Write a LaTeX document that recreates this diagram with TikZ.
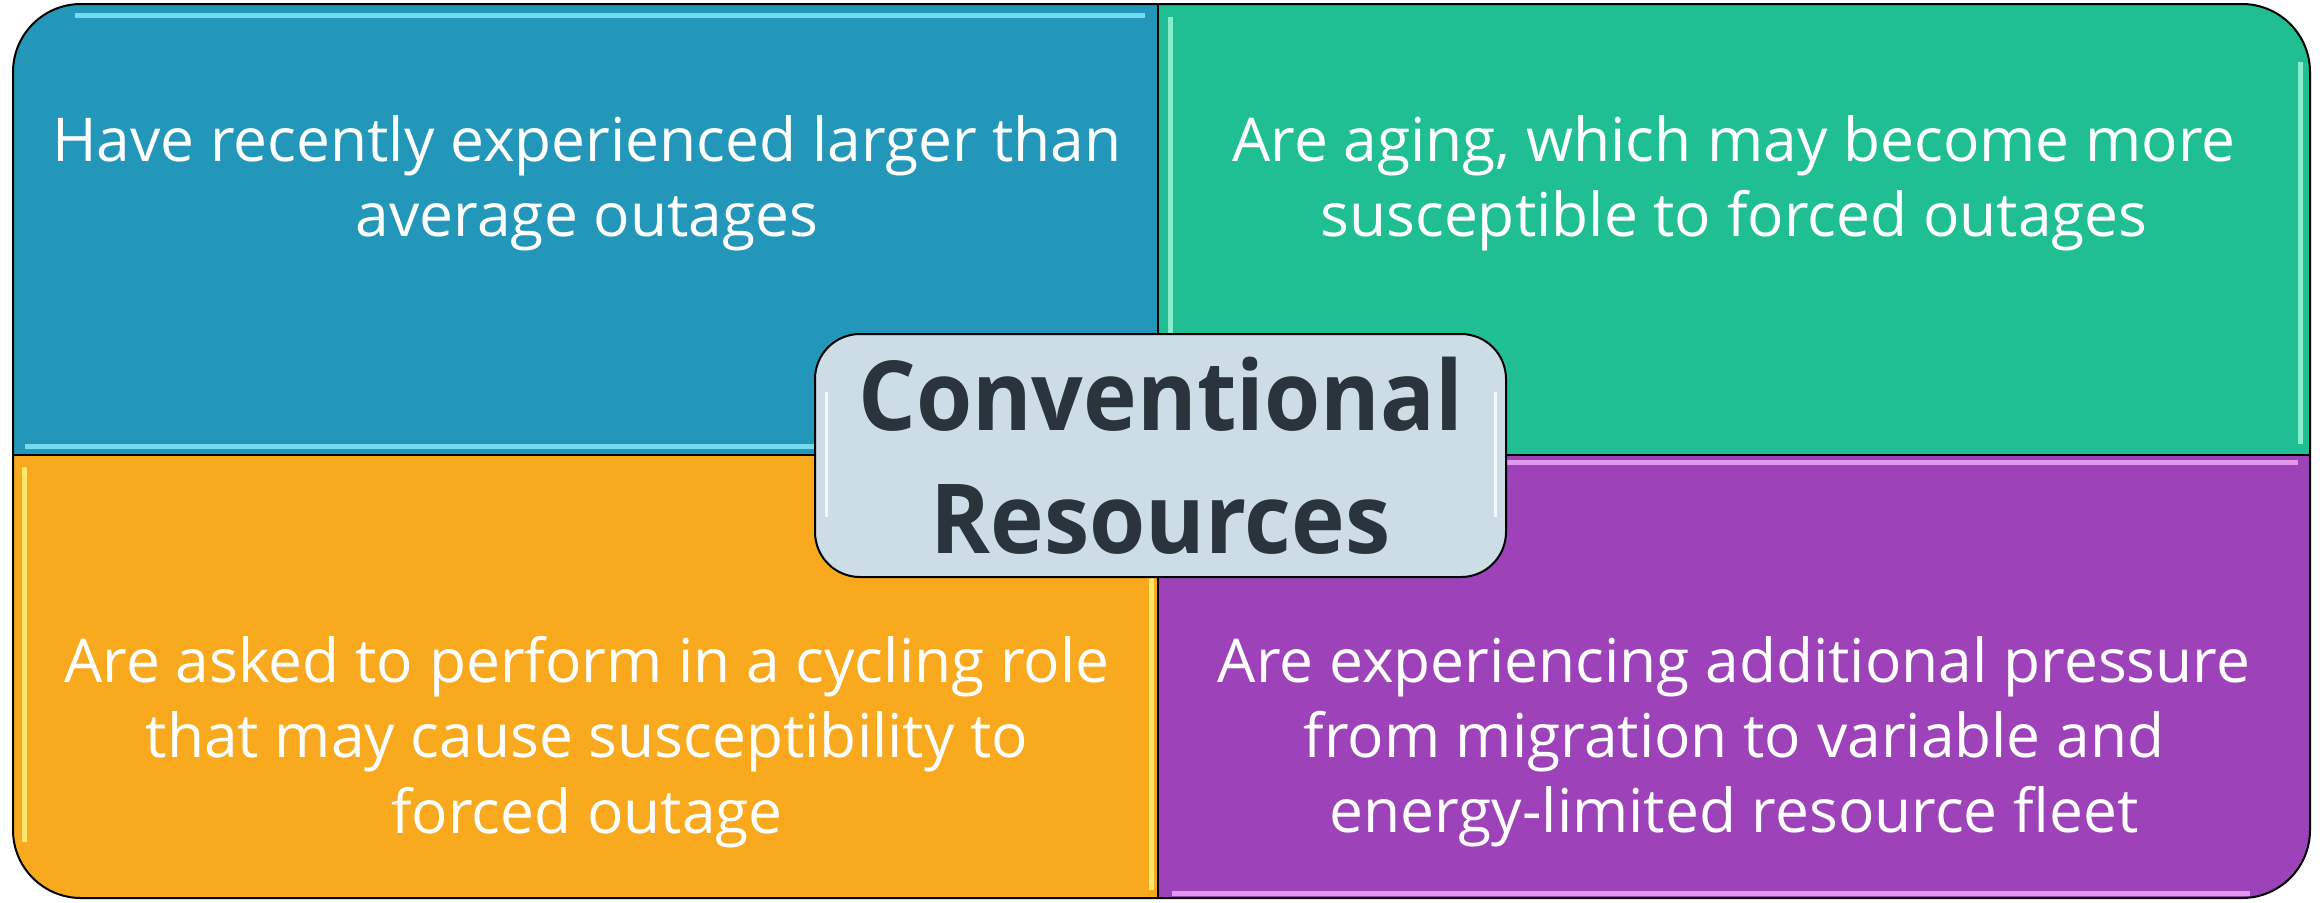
\documentclass[tikz,border=0pt]{standalone}
\usepackage{fontspec}
\setmainfont{Open Sans}
\newfontfamily\titlefont[FakeStretch=0.94]{Open Sans}
\usepackage{xcolor}
\usetikzlibrary{positioning}

\definecolor{quadblue}{HTML}{2397BA}
\definecolor{quadgreen}{HTML}{20BE93}
\definecolor{quadorange}{HTML}{F8A91D}
\definecolor{quadpurple}{HTML}{9E42BA}
\definecolor{shineblue}{HTML}{86E6F6}
\definecolor{shinegreen}{HTML}{9BF5DA}
\definecolor{shineorange}{HTML}{FFF27A}
\definecolor{shinepurple}{HTML}{EBA8F7}
\definecolor{corefill}{HTML}{CCDDE5}
\definecolor{coretext}{HTML}{29343B}

\begin{document}
\begin{tikzpicture}[
  quadtext/.style={text=white, align=center, font=\fontsize{17.2}{21.4}\selectfont, inner sep=0pt},
  corebox/.style={draw=black, line width=0.02cm, fill=corefill, rounded corners=0.45cm,
    minimum width=6.91cm, minimum height=2.43cm, align=center, text=coretext,
    font=\titlefont\bfseries\fontsize{27.5}{35}\selectfont, inner sep=0pt},
  shine/.style={line width=0.05cm, opacity=0.85}
]
\useasboundingbox (0,0) rectangle (23.2,9.02);

% ======================================================================
% FOUR QUADRANTS, clipped to the rounded outer frame
% ======================================================================
\begin{scope}
  \clip[rounded corners=0.68cm] (0.13,0.04) rectangle (23.10,8.98);
  \fill[quadblue]   (0.13,4.47)  rectangle (11.58,8.98);
  \fill[quadgreen]  (11.58,4.47) rectangle (23.10,8.98);
  \fill[quadorange] (0.13,0.04)  rectangle (11.58,4.47);
  \fill[quadpurple] (11.58,0.04) rectangle (23.10,4.47);

  % bevel shine along the quadrant edges
  \draw[shine, shineblue]   (0.75,8.865) -- (11.45,8.865);
  \draw[shine, shineblue]   (0.25,4.56)  -- (11.48,4.56);
  \draw[shine, shinegreen]  (11.70,8.85) -- (11.70,4.58);
  \draw[shine, shinegreen]  (23.00,8.40) -- (23.00,4.58);
  \draw[shine, shineorange] (0.24,4.35)  -- (0.24,0.60);
  \draw[shine, shineorange] (11.51,4.35) -- (11.51,0.12);
  \draw[shine, shinepurple] (11.72,4.40) -- (22.98,4.40);
  \draw[shine, shinepurple] (11.72,0.09) -- (22.50,0.09);
\end{scope}

% frame and dividers
\draw[line width=0.02cm, rounded corners=0.68cm] (0.13,0.04) rectangle (23.10,8.98);
\draw[line width=0.015cm] (11.58,0.04) -- (11.58,8.98);
\draw[line width=0.015cm] (0.13,4.47) -- (23.10,4.47);

% ======================================================================
% QUADRANT TEXTS
% ======================================================================
\node[quadtext] (outages) at (5.87,7.19)
  {Have recently experienced larger than\\average outages};
\node[quadtext] (aging) at (17.34,7.19)
  {Are aging, which may become more\\susceptible to forced outages};
\node[quadtext] (cycling) at (5.87,1.60)
  {Are asked to perform in a cycling role\\that may cause susceptibility to\\forced outage};
\node[quadtext] (pressure) at (17.34,1.60)
  {Are experiencing additional pressure\\from migration to variable and\\energy-limited resource fleet};

% ======================================================================
% CENTRE BOX
% ======================================================================
\node[corebox] (core) at (11.605,4.465) {Conventional\\Resources};
\draw[white, line width=0.03cm, opacity=0.8] (8.26,5.10) -- (8.26,3.85);
\draw[white, line width=0.03cm, opacity=0.8] (14.95,5.10) -- (14.95,3.85);

\end{tikzpicture}
\end{document}
